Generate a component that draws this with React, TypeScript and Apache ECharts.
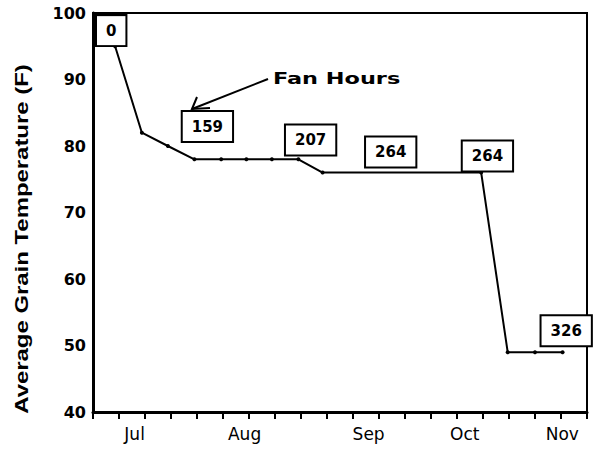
import React, { useEffect, useRef } from "react";
import * as echarts from "echarts";

// Weekly positions (0 = start of axis) and average grain temperature (F)
const weeks = [0.85, 1.88, 2.88, 3.9, 4.93, 5.9, 6.88, 7.9, 8.83, 14.93, 15.95, 17.0, 18.06];
const temps = [95, 82, 80, 78, 78, 78, 78, 78, 76, 76, 49, 49, 49];

// Cumulative fan hours annotations (position in data units)
const fanHours = [0, 159, 207, 264, 264, 326];
const fanHourWeeks = [0.7, 4.4, 8.37, 11.45, 15.17, 18.2];
const fanHourTemps = [97.35, 82.93, 80.9, 79.1, 78.5, 52.2];

// Axis ticks and labels
const weekTicks = [0, 1, 2, 3, 4, 5, 6, 7, 8, 9, 10, 11, 12, 13, 14, 15, 16, 17, 18, 19];
const monthNames = ["Jul", "Aug", "Sep", "Oct", "Nov"];
const monthPositions = [1.6, 5.83, 10.6, 14.3, 18.05];
const yTicks = { min: 40, max: 100, step: 10 };

export default function App() {
  const ref = useRef<HTMLDivElement>(null);

  useEffect(() => {
    if (!ref.current) return;
    const chart = echarts.init(ref.current, null, { renderer: "svg" });
    chart.setOption({
      animation: false,
      backgroundColor: "#fff",
      grid: {
        left: 93,
        right: 15,
        top: 13,
        bottom: 38,
        show: true,
        borderColor: "#000",
        borderWidth: 2,
        backgroundColor: "transparent",
      },
      xAxis: {
        type: "value",
        min: 0,
        max: 19,
        interval: 1,
        axisLine: { show: true, onZero: false, lineStyle: { color: "#000", width: 3 } },
        axisTick: {
          show: true,
          length: 7,
          customValues: weekTicks,
          lineStyle: { color: "#000", width: 2 },
        },
        axisLabel: {
          show: true,
          customValues: monthPositions,
          formatter: (v: number) => {
            const i = monthPositions.findIndex((p) => Math.abs(p - v) < 1e-6);
            return i >= 0 ? monthNames[i] : "";
          },
          color: "#000",
          fontFamily: "DejaVu Sans",
          fontSize: 17,
          margin: 13,
        },
        splitLine: { show: false },
      },
      yAxis: {
        type: "value",
        min: yTicks.min,
        max: yTicks.max,
        interval: yTicks.step,
        axisLine: { show: true, onZero: false, lineStyle: { color: "#000", width: 3 } },
        axisTick: { show: false },
        axisLabel: {
          color: "#000",
          fontFamily: "DejaVu Sans",
          fontWeight: "bold",
          fontSize: 16,
          margin: 7,
        },
        splitLine: { show: false },
      },
      series: [
        {
          type: "line",
          data: weeks.map((w, i) => [w, temps[i]]),
          lineStyle: { color: "#000", width: 2 },
          symbol: "circle",
          symbolSize: 4,
          itemStyle: { color: "#000" },
          z: 2,
        },
        {
          type: "scatter",
          data: fanHourWeeks.map((w, i) => [w, fanHourTemps[i], fanHours[i]]),
          symbol: "circle",
          symbolSize: 1,
          itemStyle: { color: "#fff", opacity: 1 },
          z: 5,
          emphasis: { disabled: true },
          label: {
            show: true,
            position: "inside",
            formatter: (p: any) => String(p.value[2]),
            backgroundColor: "#fff",
            borderColor: "#000",
            borderWidth: 2,
            shadowBlur: 0,
            shadowColor: "transparent",
            textBorderWidth: 0,
            textShadowBlur: 0,
            textShadowColor: "transparent",
            padding: [7, 9, 7, 9],
            color: "#000",
            opacity: 1,
            fontFamily: "DejaVu Sans",
            fontWeight: "bold",
            fontSize: 15,
          },
        },
      ],
      graphic: [
        {
          type: "text",
          x: 22,
          y: 239,
          rotation: Math.PI / 2,
          scaleX: 1.33,
          style: {
            text: "Average Grain Temperature (F)",
            fontFamily: "Liberation Sans",
            fontWeight: "bold",
            fontSize: 18,
            fill: "#000",
            align: "center",
            verticalAlign: "middle",
          },
        },
        {
          type: "text",
          x: 273,
          y: 79,
          scaleX: 1.4,
          style: {
            text: "Fan Hours",
            fontFamily: "DejaVu Sans",
            fontWeight: "bold",
            fontSize: 16,
            fill: "#000",
            align: "left",
            verticalAlign: "middle",
          },
        },
        {
          type: "line",
          shape: { x1: 268, y1: 79, x2: 192, y2: 109 },
          style: { stroke: "#000", lineWidth: 2 },
        },
        {
          type: "polyline",
          shape: { points: [[197, 97], [192, 109], [210, 108]] },
          style: { stroke: "#000", lineWidth: 2, fill: null },
        },
      ],
    });
    return () => chart.dispose();
  }, []);

  return (
    <div
      ref={ref}
      style={{ position: "fixed", left: 0, top: 0, width: 602, height: 450 }}
    />
  );
}
